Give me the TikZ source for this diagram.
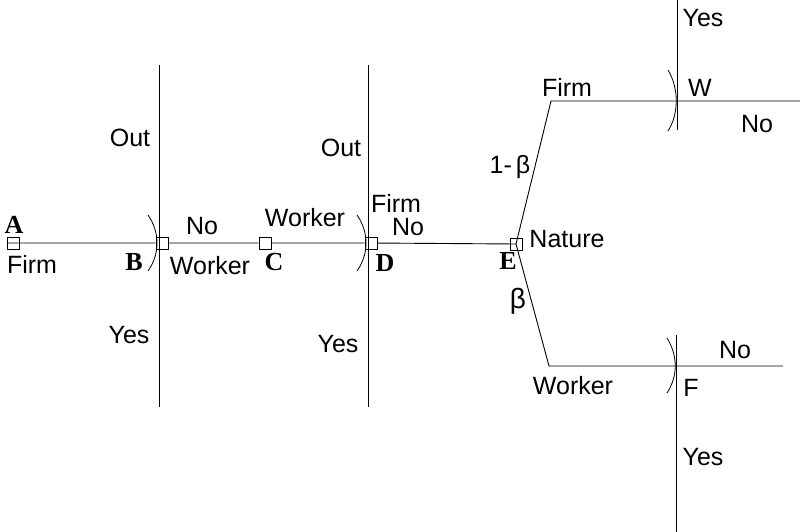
\documentclass[tikz,border=0pt]{standalone}
\usepackage{fontspec}
\setmainfont{Liberation Sans}
\newfontfamily\serifbold{Liberation Serif}
\begin{document}
\begin{tikzpicture}[x=1pt,y=-1pt,line width=0.9pt,
  sq/.style={draw,minimum size=12pt,inner sep=0pt,line width=0.8pt},
  lbl/.style={font=\fontsize{25}{29}\selectfont,inner sep=0pt},
  ltr/.style={font=\fontsize{26}{30}\selectfont\serifbold\bfseries,inner sep=0pt},
  arcl/.style={line width=0.8pt}]
\useasboundingbox (0,0) rectangle (800,532);
% decision squares
\node[sq] (A) at (13,243) {};
\node[sq] (B) at (162,243) {};
\node[sq] (C) at (265,243) {};
\node[sq] (D) at (371,243) {};
\node[sq] (E) at (516,244) {};
% coordinates
\coordinate (Btop) at (159,65);
\coordinate (Bbot) at (159,407);
\coordinate (Dtop) at (368,65);
\coordinate (Dbot) at (368,407);
\coordinate (U) at (551,101);
\coordinate (Uend) at (800,101);
\coordinate (L) at (549,366);
\coordinate (Lend) at (783,366);
\coordinate (Wtop) at (677,0);
\coordinate (Wbot) at (677,130);
\coordinate (Ftop) at (676,335);
\coordinate (Fbot) at (676,532);
% main line
\draw (A.west) -- (B) -- (C) -- (D) -- (E.center);
% verticals
\draw (Btop) -- (Bbot);
\draw (Dtop) -- (Dbot);
\draw (Wtop) -- (Wbot);
\draw (Ftop) -- (Fbot);
% nature branches
\draw (E.center) -- (U) -- (Uend);
\draw (E.center) -- (L) -- (Lend);
% information arcs
\draw[arcl] (148,215) .. controls (160,232) and (160,254) .. (148,271);
\draw[arcl] (357,215) .. controls (369,232) and (369,254) .. (357,271);
\draw[arcl] (668,70) .. controls (679,88) and (679,114) .. (668,131);
\draw[arcl] (667,338) .. controls (678,356) and (678,376) .. (667,393);
% letters
\node[ltr] (lA) at (14,225) {A};
\node[ltr] (lB) at (134,262) {B};
\node[ltr] (lC) at (274,262) {C};
\node[ltr] (lD) at (385,263) {D};
\node[ltr] (lE) at (508,261) {E};
% labels
\node[lbl] (t1) at (32,264) {Firm};
\node[lbl] (t2) at (130,138) {Out};
\node[lbl] (t3) at (129,335) {Yes};
\node[lbl] (t4) at (202,226) {No};
\node[lbl] (t5) at (210,266) {Worker};
\node[lbl] (t6) at (305,218) {Worker};
\node[lbl] (t7) at (341,148) {Out};
\node[lbl] (t8) at (338,344) {Yes};
\node[lbl] (t9) at (396,203) {Firm};
\node[lbl] (t10) at (408,227) {No};
\node[lbl] (t11) at (567,239) {Nature};
\node[lbl] (t12) at (567,87) {Firm};
\node[lbl] (t13) at (510,167) {1-\,β};
\node[lbl,font=\fontsize{28}{32}\selectfont] (t14) at (518,301) {β};
\node[lbl] (t15) at (703,18) {Yes};
\node[lbl] (t16) at (700,88) {W};
\node[lbl] (t17) at (757,124) {No};
\node[lbl] (t18) at (735,350) {No};
\node[lbl] (t19) at (691,388) {F};
\node[lbl] (t20) at (703,457) {Yes};
\node[lbl] (t21) at (573,386) {Worker};
\end{tikzpicture}
\end{document}
